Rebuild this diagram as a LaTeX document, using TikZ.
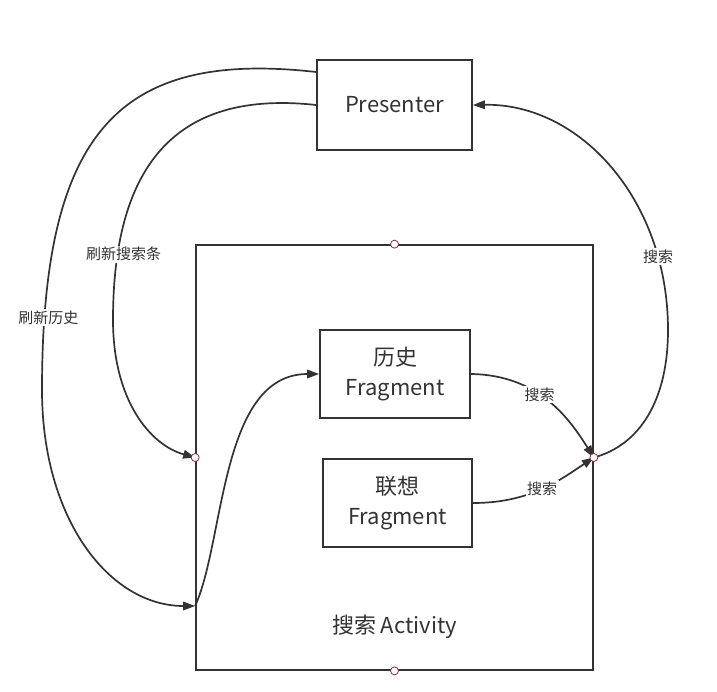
\documentclass[tikz,border=0pt]{standalone}
\usepackage{fontspec}
\setmainfont{Noto Sans CJK SC}
\usetikzlibrary{positioning,arrows.meta,calc}
\definecolor{ink}{RGB}{51,51,51}
\definecolor{portred}{RGB}{140,50,60}
\tikzset{
  box/.style={rectangle, draw=ink, line width=1.7pt, align=center, text=ink,
              inner sep=0pt, font=\fontsize{22}{30}\selectfont},
  lbl/.style={fill=white, inner sep=1.5pt, text=ink, font=\fontsize{15}{17}\selectfont},
  ar/.style={-{Triangle[length=12pt,width=8.5pt]}, line width=1.7pt, draw=ink},
  port/.style={circle, draw=portred, fill=white, inner sep=0pt,
               minimum size=8pt, line width=0.8pt},
}
\begin{document}
\begin{tikzpicture}[x=1pt, y=-1pt]
  \useasboundingbox (0,0) rectangle (717,691);
  \node[box, minimum width=155pt, minimum height=90pt] (pres) at (394.5,105) {Presenter};
  \node[box, minimum width=397pt, minimum height=425pt] (act) at (394.5,457.5) {};
  \node[box, draw=none, fill=none] (acttitle) at (394.5,627) {搜索 Activity};
  \node[box, minimum width=150pt, minimum height=88pt] (hist) at (395,374) {历史\\Fragment};
  \node[box, minimum width=149pt, minimum height=88pt] (assoc) at (397.5,503) {联想\\Fragment};
  \coordinate (presout) at ([yshift=33pt]pres.west);
  \coordinate (actin) at ([yshift=-148.5pt]act.west);

  % refresh from presenter
  \draw[ar] (presout) .. controls (120,50) and (42,130) .. (42,390)
      node[lbl, pos=0.9, xshift=4pt] {刷新历史}
      .. controls (42,520) and (110,606) .. (actin);
  \draw[ar] (pres.west) .. controls (180,90) and (113,160) .. (113,320)
      node[lbl, pos=0.85, xshift=6pt] {刷新搜索条}
      .. controls (113,400) and (150,445) .. (act.west);
  \draw[ar] (actin) .. controls (225,540) and (220,374) .. (hist.west);

  % search
  \draw[ar] (hist.east) .. controls (540,375) and (570,420) .. (act.east)
      node[lbl, pos=0.42] {搜索};
  \draw[ar] (assoc.east) .. controls (530,503) and (560,480) .. (act.east)
      node[lbl, pos=0.5] {搜索};
  \draw[ar] (act.east) .. controls (640,445) and (668,400) .. (668,330)
      .. controls (668,200) and (580,103) .. (pres.east)
      node[lbl, pos=0.2] {搜索};

  \foreach \a in {north,west,east,south}
    \node[port] (p\a) at (act.\a) {};
\end{tikzpicture}
\end{document}
